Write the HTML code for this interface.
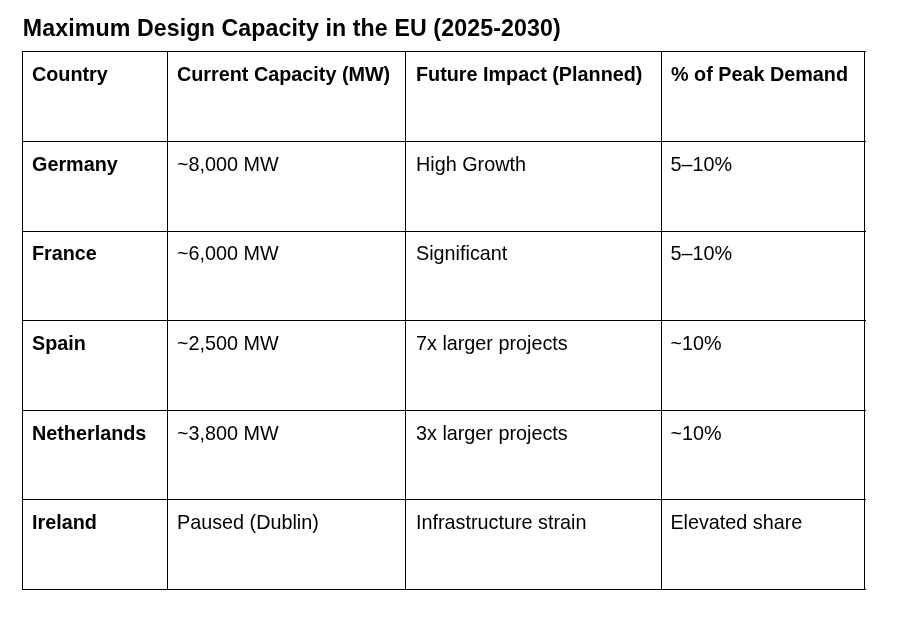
<!DOCTYPE html>
<html>
<head>
<meta charset="utf-8">
<title>Maximum Design Capacity in the EU (2025-2030)</title>
<style>
html,body{margin:0;padding:0;background:#fff;}
body{width:912px;height:628px;position:relative;overflow:hidden;font-family:"Liberation Sans",Arial,sans-serif;color:#000;}
.h{position:absolute;left:22px;width:844px;height:1px;background:#000;}
.v{position:absolute;top:51px;width:1px;height:539px;background:#000;}
.t{position:absolute;white-space:nowrap;font-size:19.8px;line-height:24px;}
.b{font-weight:bold;}
#title{position:absolute;left:22.8px;top:14px;font-size:23.2px;letter-spacing:0.1px;line-height:28px;font-weight:bold;white-space:nowrap;margin:0;}
.c1{left:32px}.c2{left:177px}.c3{left:416px}.c4{left:671px}.t:not(.b).c4{left:670.4px}
.r0{top:62px}.r1{top:152px}.r2{top:241px}.r3{top:331px}.r4{top:421px}.r5{top:510px}
</style>
</head>
<body>
<h1 id="title">Maximum Design Capacity in the EU (2025-2030)</h1>
<div class="h" style="top:51px"></div>
<div class="h" style="top:141px"></div>
<div class="h" style="top:231px"></div>
<div class="h" style="top:320px"></div>
<div class="h" style="top:410px"></div>
<div class="h" style="top:499px"></div>
<div class="h" style="top:589px"></div>
<div class="v" style="left:22px"></div>
<div class="v" style="left:167px"></div>
<div class="v" style="left:405px"></div>
<div class="v" style="left:661px"></div>
<div class="v" style="left:864px"></div>

<div class="t b c1 r0">Country</div>
<div class="t b c2 r0">Current Capacity (MW)</div>
<div class="t b c3 r0">Future Impact (Planned)</div>
<div class="t b c4 r0">% of Peak Demand</div>

<div class="t b c1 r1">Germany</div>
<div class="t c2 r1">~8,000 MW</div>
<div class="t c3 r1">High Growth</div>
<div class="t c4 r1">5–10%</div>

<div class="t b c1 r2">France</div>
<div class="t c2 r2">~6,000 MW</div>
<div class="t c3 r2">Significant</div>
<div class="t c4 r2">5–10%</div>

<div class="t b c1 r3">Spain</div>
<div class="t c2 r3">~2,500 MW</div>
<div class="t c3 r3">7x larger projects</div>
<div class="t c4 r3">~10%</div>

<div class="t b c1 r4">Netherlands</div>
<div class="t c2 r4">~3,800 MW</div>
<div class="t c3 r4">3x larger projects</div>
<div class="t c4 r4">~10%</div>

<div class="t b c1 r5">Ireland</div>
<div class="t c2 r5">Paused (Dublin)</div>
<div class="t c3 r5">Infrastructure strain</div>
<div class="t c4 r5">Elevated share</div>
</body>
</html>
